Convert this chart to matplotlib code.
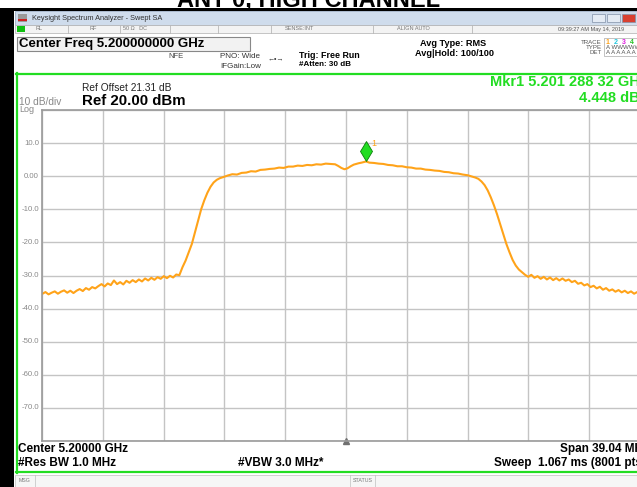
"""Keysight swept-SA screenshot: ANT 0, high channel (5.2 GHz, 39.04 MHz span)."""
import matplotlib
matplotlib.use("Agg")
import matplotlib.pyplot as plt
from matplotlib.patches import Rectangle
from matplotlib.lines import Line2D
from matplotlib.transforms import offset_copy, blended_transform_factory

plt.rcParams["font.family"] = ["Liberation Sans", "DejaVu Sans"]

W, H = 637, 487
CENTER_MHZ = 5200.0
SPAN_MHZ = 39.04

# trace: offset from centre (MHz), level (dBm)
offset_mhz = [
    -19.52, -19.3, -19.1, -18.9, -18.7, -18.5, -18.3, -18.1, -17.9, -17.7,
    -17.5, -17.3, -17.1, -16.9, -16.7, -16.5, -16.3, -16.1, -15.9, -15.7,
    -15.5, -15.3, -15.1, -14.9, -14.7, -14.5, -14.3, -14.1, -13.9, -13.7,
    -13.5, -13.3, -13.1, -12.9, -12.7, -12.5, -12.3, -12.1, -11.9, -11.7,
    -11.5, -11.3, -11.1, -10.9, -10.7, -10.5, -10.3, -10.1, -9.9, -9.7,
    -9.5, -9.3, -9.1, -8.9, -8.7, -8.5, -8.3, -8.1, -7.9, -7.6,
    -7.3, -7.0, -6.7, -6.4, -6.1, -5.8, -5.5, -5.2, -4.9, -4.6,
    -4.3, -4.0, -3.7, -3.4, -3.1, -2.8, -2.5, -2.2, -1.9, -1.6,
    -1.3, -1.0, -0.7, -0.5, -0.3, -0.1, 0.1, 0.3, 0.5, 0.8,
    1.0, 1.29, 1.5, 1.8, 2.1, 2.4, 2.7, 3.0, 3.3, 3.6,
    3.9, 4.2, 4.5, 4.8, 5.1, 5.4, 5.7, 6.0, 6.3, 6.6,
    6.9, 7.2, 7.5, 7.8, 8.1, 8.3, 8.5, 8.7, 8.9, 9.1,
    9.3, 9.5, 9.7, 9.9, 10.1, 10.3, 10.5, 10.7, 10.9, 11.1,
    11.3, 11.5, 11.7, 11.9, 12.1, 12.3, 12.5, 12.7, 12.9, 13.1,
    13.3, 13.5, 13.7, 13.9, 14.1, 14.3, 14.5, 14.7, 14.9, 15.1,
    15.3, 15.5, 15.7, 15.9, 16.1, 16.3, 16.5, 16.7, 16.9, 17.1,
    17.3, 17.5, 17.7, 17.9, 18.1, 18.3, 18.5, 18.7, 18.9, 19.1,
    19.3, 19.52,
]
level_dbm = [
    -35.6, -35.0, -35.7, -35.2, -34.8, -35.5, -34.9, -34.5, -35.2, -34.6,
    -35.3, -34.6, -34.1, -34.7, -33.8, -34.3, -33.5, -33.9, -33.2, -32.6,
    -33.3, -32.4, -32.9, -31.5, -32.6, -32.0, -32.7, -31.6, -32.2, -31.4,
    -32.0, -31.2, -31.8, -30.9, -31.5, -30.7, -31.3, -30.5, -31.0, -30.2,
    -30.8, -30.1, -30.6, -29.7, -29.9, -27.5, -25.5, -23.0, -20.5, -17.0,
    -13.5, -10.0, -7.3, -5.0, -3.2, -1.9, -1.1, -0.6, -0.3, 0.2,
    0.6, 0.5, 1.0, 1.1, 1.5, 1.4, 1.9, 2.0, 2.2, 2.3,
    2.6, 2.5, 2.9, 2.9, 3.2, 3.1, 3.4, 3.3, 3.6, 3.5,
    3.8, 3.7, 3.6, 3.1, 2.5, 2.1, 2.4, 3.0, 3.5, 3.9,
    4.1, 4.45, 4.1, 4.0, 3.8, 3.7, 3.4, 3.3, 3.0, 3.0,
    2.7, 2.6, 2.3, 2.3, 2.0, 1.9, 1.7, 1.6, 1.3, 1.2,
    0.9, 0.8, 0.5, 0.3, -0.1, -0.4, -0.8, -1.6, -2.7, -4.3,
    -6.4, -8.8, -11.5, -14.5, -17.6, -20.5, -23.0, -25.3, -27.0, -28.2,
    -29.0, -29.8, -30.4, -29.8, -30.7, -30.2, -31.0, -30.4, -31.2, -30.6,
    -31.4, -30.8, -31.5, -30.9, -31.6, -31.2, -32.0, -31.6, -32.5, -32.2,
    -33.0, -32.6, -33.5, -33.1, -33.9, -33.4, -34.3, -33.8, -34.6, -34.2,
    -34.9, -34.4, -35.1, -34.6, -35.3, -34.8, -35.5, -35.0, -35.7, -35.2,
    -35.8, -35.4,
]
y_tick_labels = ["10.0", "0.00", "-10.0", "-20.0", "-30.0", "-40.0", "-50.0", "-60.0", "-70.0"]
y_tick_values = [10, 0, -10, -20, -30, -40, -50, -60, -70]
mkr_offset_mhz = 1.28832
mkr_level = 4.448

TRACE = "#ffa319"
GREEN = "#22dd22"


def fx(x):
    return x / W


def fy(y):
    return 1 - y / H


def rect(x0, y0, x1, y1, **kw):
    fig.add_artist(Rectangle((fx(x0), fy(y1)), (x1 - x0) / W, (y1 - y0) / H,
                             transform=fig.transFigure, **kw))


def hline(x0, x1, y, **kw):
    fig.add_artist(Line2D([fx(x0), fx(x1)], [fy(y), fy(y)], transform=fig.transFigure, **kw))


def vline(x, y0, y1, **kw):
    fig.add_artist(Line2D([fx(x), fx(x)], [fy(y0), fy(y1)], transform=fig.transFigure, **kw))


def txt(x, y, s, **kw):
    kw.setdefault("va", "center")
    fig.text(fx(x), fy(y), s, **kw)


fig = plt.figure(figsize=(W / 100, H / 100), dpi=100)
fig.patch.set_facecolor("white")

# page title (cut by the top edge) and black frame
txt(309, 7, "ANT 0, HIGH CHANNEL", ha="center", va="baseline", fontsize=17, fontweight="bold")
rect(0, 8, W, 11, facecolor="black", edgecolor="none")
rect(0, 8, 14, H, facecolor="black", edgecolor="none")

# window title bar
rect(15, 11, W, 25, facecolor="#cfdcec", edgecolor="#9fb0c6", linewidth=0.6)
rect(18, 14, 27, 22, facecolor="#9a9a9a", edgecolor="none")
rect(18, 19, 27, 21, facecolor="#d02020", edgecolor="none")
txt(32, 18, "Keysight Spectrum Analyzer - Swept SA", fontsize=5.3, color="#333333")
for bx, col in [(592, "#e4ebf4"), (607, "#e4ebf4"), (622, "#d84030")]:
    rect(bx, 14, bx + 13, 22, facecolor=col, edgecolor="#8090a8", linewidth=0.5)

# status row
rect(15, 25, W, 33, facecolor="#f3f3f3", edgecolor="#b0b0b0", linewidth=0.5)
rect(17, 26, 25, 32, facecolor="#10c010", edgecolor="none")
for cx in [68, 120, 170, 218, 271, 373, 472]:
    vline(cx, 25, 33, color="#b8b8b8", linewidth=0.6)
for x, s in [(35, "RL"), (90, "RF"), (123, "50 \u03a9   DC"), (285, "SENSE:INT"), (397, "ALIGN AUTO")]:
    txt(x, 29, s, fontsize=4.0, color="#777777")
txt(558, 29, "09:39:27 AM May 14, 2019", fontsize=4.0, color="#555555", ha="left")

# info panel
rect(17, 37, 250, 51, facecolor="#f2f2f2", edgecolor="#888888", linewidth=0.8)
txt(19, 44, "Center Freq 5.200000000 GHz", fontsize=9.5, fontweight="bold")
txt(168, 57, "NFE", fontsize=5.5, color="#444444")
txt(220, 57, "PNO: Wide", fontsize=5.8, color="#333333")
txt(220, 66, "IFGain:Low", fontsize=5.8, color="#333333")
txt(268, 59, "\u2190\u2022\u2192", fontsize=5, color="#333333")
txt(299, 55, "Trig: Free Run", fontsize=6.4, fontweight="bold")
txt(299, 65, "#Atten: 30 dB", fontsize=5.8, fontweight="bold")
txt(420, 43, "Avg Type: RMS", fontsize=6.6, fontweight="bold")
txt(415, 53, "Avg|Hold: 100/100", fontsize=6.6, fontweight="bold")
for y, s in [(42, "TRACE"), (47.5, "TYPE"), (53, "DET")]:
    txt(602, y, s, fontsize=4.4, color="#555555", ha="right")
rect(604, 38, W + 2, 56, facecolor="white", edgecolor="#aaaaaa", linewidth=0.5)
for i, col in enumerate([TRACE, "#20c8e0", "#e020e0", "#20c020", "#4040ff", "#e06020"]):
    txt(606 + i * 8, 42, str(i + 1), fontsize=5, color=col, fontweight="bold")
txt(606, 47.5, "A WWWWW", fontsize=4.4, color="#555555")
txt(606, 53, "A A A A A A", fontsize=4.4, color="#555555")

# green measurement frame
hline(16, W, 73.5, color=GREEN, linewidth=1.6)
hline(16, W, 472, color=GREEN, linewidth=1.6)
vline(16.5, 73, 472.5, color=GREEN, linewidth=1.6)

txt(82, 88, "Ref Offset 21.31 dB", fontsize=7.3, color="#222222")
txt(82, 101, "Ref 20.00 dBm", fontsize=10.8, fontweight="bold")
txt(19, 102, "10 dB/div", fontsize=7.3, color="#888888")
txt(19, 110, "Log", fontsize=6.5, color="#888888")
txt(490, 82, "Mkr1 5.201 288 32 GHz", fontsize=10.5, fontweight="bold", color=GREEN)
txt(579, 98, "4.448 dBm", fontsize=10.5, fontweight="bold", color=GREEN)

txt(18, 449, "Center 5.20000 GHz", fontsize=8.5, fontweight="bold")
txt(18, 463, "#Res BW 1.0 MHz", fontsize=8.5, fontweight="bold")
txt(238, 463, "#VBW 3.0 MHz*", fontsize=8.5, fontweight="bold")
txt(560, 449, "Span 39.04 MHz", fontsize=8.5, fontweight="bold")
txt(494, 463, "Sweep  1.067 ms (8001 pts)", fontsize=8.5, fontweight="bold")

# message / status row
rect(15, 475, W, H + 2, facecolor="#f6f6f6", edgecolor="#c0c0c0", linewidth=0.5)
vline(35, 475, H, color="#c0c0c0", linewidth=0.5)
vline(350, 475, H, color="#c0c0c0", linewidth=0.5)
vline(375, 475, H, color="#c0c0c0", linewidth=0.5)
txt(19, 481, "MSG", fontsize=3.8, color="#777777")
txt(353, 481, "STATUS", fontsize=3.8, color="#777777")

# graticule
ax = fig.add_axes([fx(42), fy(441), 608 / W, 331 / H])
f0 = CENTER_MHZ - SPAN_MHZ / 2
ax.set_xlim(f0, f0 + SPAN_MHZ)
ax.set_ylim(-80, 20)
ax.set_xticks([f0 + i * SPAN_MHZ / 10 for i in range(11)])
ax.set_yticks(range(-80, 21, 10))
ax.grid(True, color="#c4c4c4", linewidth=1.0)
ax.tick_params(length=0, labelbottom=False, labelleft=False)
for sp in ax.spines.values():
    sp.set_color("#9a9a9a")
    sp.set_linewidth(1.2)
ax.set_axisbelow(True)

bt = blended_transform_factory(ax.transAxes, ax.transData)
for v, s in zip(y_tick_values, y_tick_labels):
    ax.text(-0.005, v, s, transform=bt, ha="right", va="center", fontsize=5.6, color="#8a8a8a")

freq = [CENTER_MHZ + o for o in offset_mhz]
ax.plot(freq, level_dbm, color=TRACE, linewidth=1.5, solid_joinstyle="round")

ax.plot([CENTER_MHZ], [-80], marker="^", markersize=4, color="#707070", clip_on=False)

mk = offset_copy(ax.transData, fig=fig, y=10, units="dots")
ax.plot([CENTER_MHZ + mkr_offset_mhz], [mkr_level], marker="d", markersize=10,
        markerfacecolor=GREEN, markeredgecolor="#0b7d0b", markeredgewidth=0.6, transform=mk)
lab = offset_copy(ax.transData, fig=fig, x=8, y=18, units="dots")
ax.text(CENTER_MHZ + mkr_offset_mhz, mkr_level, "1", transform=lab, fontsize=6.5,
        color=TRACE, ha="center", va="center")

fig.savefig("out.png", dpi=100)
